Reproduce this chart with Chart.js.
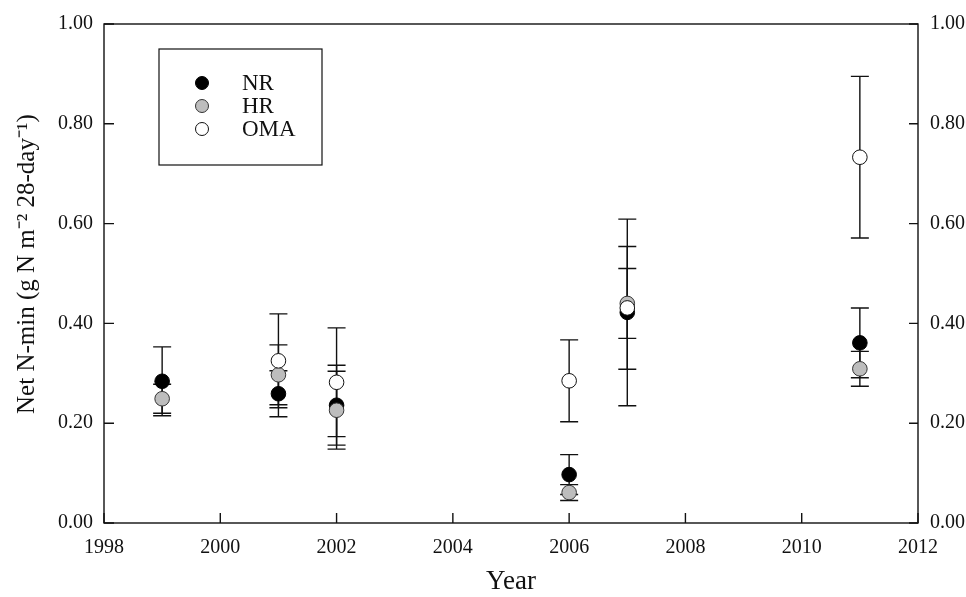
<!DOCTYPE html>
<html><head><meta charset="utf-8">
<script src="https://cdn.jsdelivr.net/npm/chart.js@4.4.1/dist/chart.umd.min.js"></script>
<style>html,body{margin:0;padding:0;background:#fff}#wrap{width:966px;height:597px}</style>
</head><body><div id="wrap"><canvas id="c" width="966" height="597"></canvas></div>
<script>
// ---- data ----
const years   = [1999, 2001, 2002, 2006, 2007, 2011];
const nrMean  = [0.284, 0.259, 0.236, 0.097, 0.422, 0.361];
const nrErr   = [0.069, 0.046, 0.080, 0.040, 0.187, 0.070];
const hrMean  = [0.249, 0.297, 0.226, 0.061, 0.440, 0.309];
const hrErr   = [0.029, 0.060, 0.078, 0.016, 0.070, 0.035];
const omaMean = [null, 0.325, 0.282, 0.285, 0.431, 0.733];
const omaErr  = [null, 0.094, 0.109, 0.082, 0.123, 0.162];
const seriesNames = ['NR', 'HR', 'OMA'];
const xTicks = [1998, 2000, 2002, 2004, 2006, 2008, 2010, 2012];
const yTicks = [0, 0.2, 0.4, 0.6, 0.8, 1.0];
const xTitle = 'Year';
const yTitle = '   Net N-min (g N m\u207B\u00B2 28-day\u207B\u00B9)';

const FONT = '"Liberation Serif", "Times New Roman", serif';
const INK = '#111';

function pts(means, errs){
  const out = [];
  years.forEach((y,i)=>{ if(means[i]!=null) out.push({x:y, y:means[i], err:errs[i]}); });
  return out;
}

const errorBars = {
  id:'errorBars',
  beforeDatasetsDraw(chart){
    const ctx = chart.ctx, xs = chart.scales.x, ys = chart.scales.y;
    ctx.save(); ctx.strokeStyle = INK; ctx.lineWidth = 1.4;
    chart.data.datasets.forEach(ds=>{
      ds.data.forEach(p=>{
        const px = xs.getPixelForValue(p.x);
        const t = ys.getPixelForValue(p.y + p.err), b = ys.getPixelForValue(p.y - p.err);
        ctx.beginPath();
        ctx.moveTo(px,t); ctx.lineTo(px,b);
        ctx.moveTo(px-9,t); ctx.lineTo(px+9,t);
        ctx.moveTo(px-9,b); ctx.lineTo(px+9,b);
        ctx.stroke();
      });
    });
    ctx.restore();
  }
};

const frame = {
  id:'frame',
  afterDraw(chart){
    const ctx = chart.ctx, a = chart.chartArea;
    ctx.save(); ctx.strokeStyle = INK; ctx.lineWidth = 1.4;
    ctx.strokeRect(a.left, a.top, a.right-a.left, a.bottom-a.top);
    ctx.beginPath();
    chart.scales.x.ticks.forEach(t=>{ const p = chart.scales.x.getPixelForValue(t.value); ctx.moveTo(p,a.bottom); ctx.lineTo(p,a.bottom-10); });
    chart.scales.y.ticks.forEach(t=>{ const p = chart.scales.y.getPixelForValue(t.value); ctx.moveTo(a.left,p); ctx.lineTo(a.left+10,p); });
    chart.scales.y2.ticks.forEach(t=>{ const p = chart.scales.y2.getPixelForValue(t.value); ctx.moveTo(a.right,p); ctx.lineTo(a.right-9,p); });
    ctx.stroke();
    // legend box
    const bx=159, by=49, bw=163, bh=116;
    ctx.lineWidth = 1.2;
    ctx.strokeRect(bx, by, bw, bh);
    ctx.font = '23px ' + FONT; ctx.textBaseline = 'middle'; ctx.textAlign='left';
    chart.data.datasets.forEach((ds,i)=>{
      const cy = by + 34 + i*23;
      ctx.beginPath(); ctx.arc(bx+43, cy, 6.5, 0, Math.PI*2);
      ctx.fillStyle = ds.backgroundColor; ctx.fill();
      ctx.strokeStyle = ds.borderColor; ctx.lineWidth = 1; ctx.stroke();
      ctx.fillStyle = INK; ctx.fillText(ds.label, bx+83, cy+1);
    });
    ctx.restore();
  }
};

const tickFont = {family:FONT, size:20};
new Chart(document.getElementById('c'), {
  type:'scatter',
  data:{ datasets:[
    {label:seriesNames[0], order:3, data:pts(nrMean, nrErr), backgroundColor:'#000', borderColor:'#000', borderWidth:1, pointRadius:7.3},
    {label:seriesNames[1], order:2, data:pts(hrMean, hrErr), backgroundColor:'#bdbdbd', borderColor:'#333', borderWidth:1, pointRadius:7.3},
    {label:seriesNames[2], order:1, data:pts(omaMean, omaErr), backgroundColor:'#fff', borderColor:'#111', borderWidth:1, pointRadius:7.3}
  ]},
  options:{
    responsive:false, animation:false,
    layout:{padding:{top:20,left:0,right:0,bottom:0}},
    plugins:{legend:{display:false}, tooltip:{enabled:false}},
    scales:{
      x:{type:'linear', position:'bottom', min:1998, max:2012,
        afterBuildTicks:s=>{ s.ticks = xTicks.map(v=>({value:v})); },
        grid:{display:false, drawTicks:false}, border:{display:false},
        ticks:{padding:13, color:INK, font:tickFont, maxRotation:0, autoSkip:false, callback:v=>String(v)},
        title:{display:true, text:xTitle, color:INK, font:{family:FONT,size:27}, padding:{top:0,bottom:-1}},
        afterFit:s=>{ s.height = 74; }
      },
      y:{type:'linear', position:'left', min:0, max:1,
        afterBuildTicks:s=>{ s.ticks = yTicks.map(v=>({value:v})); },
        grid:{display:false, drawTicks:false}, border:{display:false},
        ticks:{padding:11, color:INK, font:tickFont, callback:v=>Number(v).toFixed(2)},
        title:{display:true, text:yTitle, color:INK, font:{family:FONT,size:25}, padding:{top:12,bottom:0}},
        afterFit:s=>{ s.width = 104; }
      },
      y2:{type:'linear', position:'right', min:0, max:1,
        afterBuildTicks:s=>{ s.ticks = yTicks.map(v=>({value:v})); },
        grid:{display:false, drawTicks:false}, border:{display:false},
        ticks:{padding:12, color:INK, font:tickFont, callback:v=>Number(v).toFixed(2)},
        afterFit:s=>{ s.width = 48; }
      }
    }
  },
  plugins:[errorBars, frame]
});
</script></body></html>
